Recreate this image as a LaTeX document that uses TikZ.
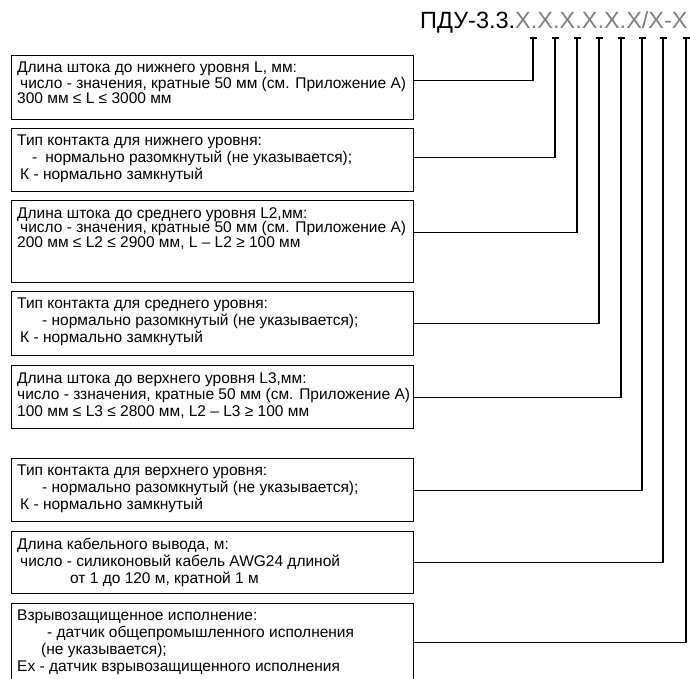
\documentclass[tikz,border=0pt]{standalone}
\usepackage{fontspec}
\setmainfont{Liberation Sans}
\usetikzlibrary{positioning,calc}

\begin{document}
\begin{tikzpicture}[x=1pt,y=-1pt,
  box/.style={draw,line width=1.2pt,anchor=north west,minimum width=402pt,inner sep=0pt},
  txt/.style={anchor=north west,align=left,inner sep=0pt,
  font=\fontsize{15.5}{16.8}\selectfont},
  conn/.style={line width=1.2pt}
]
\useasboundingbox (0,0) rectangle (690,679);
\clip (0,0) rectangle (690,679);

% designation
\node[anchor=base west,inner sep=0pt,font=\fontsize{23.5}{24}\selectfont] (title) at (420,29)
  {ПДУ-3.3.\textcolor{gray}{X.X.X.X.X.X/X-X}};

% markers under the fields
\foreach \i/\x in {1/533,2/555,3/577,4/599,5/621,6/642,7/663,8/686} {
  \coordinate (m\i) at (\x,38);
  \draw[conn] ([xshift=-3.5pt]m\i) -- ([xshift=3.5pt]m\i);
}

% boxes
\node[box,minimum height=64pt] (b1) at (11,55) {};
\node[box,minimum height=63pt] (b2) at (11,128) {};
\node[box,minimum height=82pt] (b3) at (11,200) {};
\node[box,minimum height=64pt] (b4) at (11,291) {};
\node[box,minimum height=63pt] (b5) at (11,365) {};
\node[box,minimum height=63pt] (b6) at (11,458) {};
\node[box,minimum height=62pt] (b7) at (11,531) {};
\node[box,minimum height=100pt] (b8) at (11,603) {};

\node[txt,font=\fontsize{15.5}{12.5}\selectfont] (t1) at ([xshift=6pt,yshift=-7pt]b1.north west)
  {Длина штока до нижнего уровня L, мм:\\
   \hspace*{3pt}число - значения, кратные 50 мм (см. Приложение А)\\
   300 мм ≤ L ≤ 3000 мм};
\node[txt] (t2) at ([xshift=6pt,yshift=-7pt]b2.north west)
  {Тип контакта для нижнего уровня:\\
   \hspace*{15pt}-\hspace*{8pt}нормально разомкнутый (не указывается);\\
   \hspace*{3pt}К - нормально замкнутый};
\node[txt,font=\fontsize{15.5}{14.5}\selectfont] (t3) at ([xshift=6pt,yshift=-7pt]b3.north west)
  {Длина штока до среднего уровня L2,мм:\\
   \hspace*{3pt}число - значения, кратные 50 мм (см. Приложение А)\\
   200 мм ≤ L2 ≤ 2900 мм, L – L2 ≥ 100 мм};
\node[txt] (t4) at ([xshift=6pt,yshift=-7pt]b4.north west)
  {Тип контакта для среднего уровня:\\
   \hspace*{25pt}- нормально разомкнутый (не указывается);\\
   \hspace*{3pt}К - нормально замкнутый};
\node[txt] (t5) at ([xshift=6pt,yshift=-7pt]b5.north west)
  {Длина штока до верхнего уровня L3,мм:\\
   число - ззначения, кратные 50 мм (см. Приложение А)\\
   100 мм ≤ L3 ≤ 2800 мм, L2 – L3 ≥ 100 мм};
\node[txt] (t6) at ([xshift=6pt,yshift=-7pt]b6.north west)
  {Тип контакта для верхнего уровня:\\
   \hspace*{25pt}- нормально разомкнутый (не указывается);\\
   \hspace*{3pt}К - нормально замкнутый};
\node[txt] (t7) at ([xshift=6pt,yshift=-7pt]b7.north west)
  {Длина кабельного вывода, м:\\
   \hspace*{3pt}число - силиконовый кабель AWG24 длиной\\
   \hspace*{53pt}от 1 до 120 м, кратной 1 м};
\node[txt] (t8) at ([xshift=6pt,yshift=-7pt]b8.north west)
  {Взрывозащищенное исполнение:\\
   \hspace*{30pt}- датчик общепромышленного исполнения\\
   \hspace*{24pt}(не указывается);\\
   Ex - датчик взрывозащищенного исполнения};

% connectors
\draw[conn] ([yshift=7pt]b1.east) -| (m1);
\draw[conn] ([yshift=2.5pt]b2.east) -| (m2);
\draw[conn] ([yshift=9pt]b3.east) -| (m3);
\draw[conn] (b4.east) -| (m4);
\draw[conn] (b5.east) -| (m5);
\draw[conn] (b6.east) -| (m6);
\draw[conn] (b7.east) -| (m7);
\draw[conn] ([yshift=11pt]b8.east) -| (m8);
\end{tikzpicture}
\end{document}
